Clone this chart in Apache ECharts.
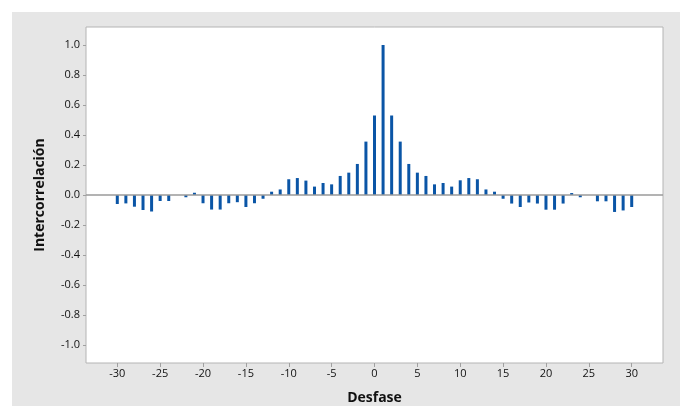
<!DOCTYPE html>
<html>
<head>
<meta charset="utf-8">
<script src="https://cdn.jsdelivr.net/npm/echarts@6/dist/echarts.min.js"></script>
<style>html,body{margin:0;padding:0;background:#fff;}#c{width:680px;height:406px;}</style>
</head>
<body>
<div id="c"></div>
<script>
const lags = [-30,-29,-28,-27,-26,-25,-24,-23,-22,-21,-20,-19,-18,-17,-16,-15,-14,-13,-12,-11,-10,-9,-8,-7,-6,-5,-4,-3,-2,-1,0,1,2,3,4,5,6,7,8,9,10,11,12,13,14,15,16,17,18,19,20,21,22,23,24,25,26,27,28,29,30];
const ccf = [-0.06,-0.056,-0.078,-0.10,-0.11,-0.04,-0.04,0,-0.015,0.015,-0.055,-0.097,-0.097,-0.055,-0.048,-0.08,-0.055,-0.025,0.022,0.037,0.105,0.113,0.096,0.056,0.08,0.071,0.127,0.149,0.207,0.356,0.53,1.0,0.53,0.356,0.207,0.149,0.127,0.071,0.08,0.056,0.098,0.113,0.105,0.037,0.022,-0.025,-0.057,-0.08,-0.05,-0.057,-0.098,-0.098,-0.057,0.013,-0.015,0,-0.042,-0.042,-0.113,-0.103,-0.08];
const xTicks = [-30,-25,-20,-15,-10,-5,0,5,10,15,20,25,30];
const yTicks = [-1.0,-0.8,-0.6,-0.4,-0.2,0.0,0.2,0.4,0.6,0.8,1.0];
const xTitle = 'Desfase';
const yTitle = 'Intercorrelación';

const chart = echarts.init(document.getElementById('c'), null, {renderer:'canvas'});
const font = '"Open Sans", "Noto Sans", sans-serif';
chart.setOption({
  backgroundColor: '#ffffff',
  animation: false,
  graphic: [{
    type: 'rect', left: 12, top: 12, z: -10,
    shape: {width: 668, height: 394},
    style: {fill: '#e6e6e6'}
  }],
  grid: {left: 86, right: 17, top: 27, bottom: 43, show: true, containLabel: false, outerBoundsMode: 'none',
    backgroundColor: '#ffffff', borderColor: '#b4b4b4', borderWidth: 1},
  xAxis: {
    type: 'value', min: -33.65, max: 33.65,
    name: xTitle, nameLocation: 'middle', nameGap: 28,
    nameTextStyle: {fontFamily: font, fontSize: 14, fontWeight: 'bold', color: '#111'},
    axisLine: {show: false, onZero: false},
    splitLine: {show: false},
    axisTick: {show: true, length: 4, lineStyle: {color: '#a0a0a0'}, customValues: xTicks},
    axisLabel: {customValues: xTicks, fontFamily: font, fontSize: 11, color: '#111', margin: 5,
      formatter: v => String(v)}
  },
  yAxis: {
    type: 'value', min: -1.12, max: 1.12,
    name: yTitle, nameLocation: 'middle', nameGap: 39,
    nameTextStyle: {fontFamily: font, fontSize: 14, fontWeight: 'bold', color: '#111'},
    axisLine: {show: false, onZero: false},
    splitLine: {show: false},
    axisTick: {show: true, length: 3, lineStyle: {color: '#a0a0a0'}, customValues: yTicks},
    axisLabel: {customValues: yTicks, fontFamily: font, fontSize: 11, color: '#111', margin: 6,
      formatter: v => v.toFixed(1)}
  },
  series: [{
    type: 'bar',
    data: lags.map((l, i) => [l, ccf[i]]),
    barWidth: 3,
    itemStyle: {color: '#0a55a6'},
    markLine: {
      silent: true, symbol: 'none', label: {show: false},
      lineStyle: {color: '#9a9a9a', width: 1.5, type: 'solid'},
      data: [{yAxis: 0}]
    }
  }]
});
</script>
</body>
</html>
